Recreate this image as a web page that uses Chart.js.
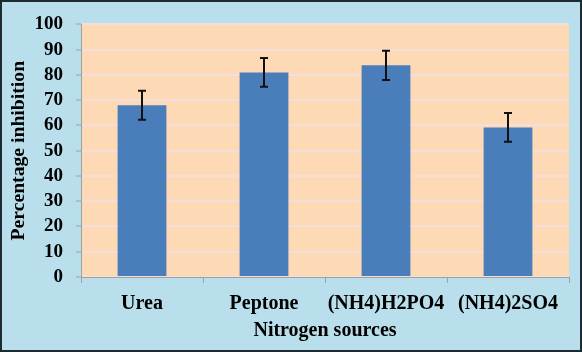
<!DOCTYPE html>
<html>
<head>
<meta charset="utf-8">
<script src="https://cdn.jsdelivr.net/npm/chart.js@4.4.0/dist/chart.umd.min.js"></script>
<style>
  html, body { margin: 0; padding: 0; background: #b8dfeb; }
  #wrap { width: 582px; height: 352px; position: relative; }
</style>
</head>
<body>
<div id="wrap"><canvas id="c" width="582" height="352"></canvas></div>
<script>
const categories = ["Urea", "Peptone", "(NH4)H2PO4", "(NH4)2SO4"];
const inhibition = [68, 81, 83.8, 59.2];
const errors = [5.7, 5.7, 5.8, 5.7];
const yTicks = [0, 10, 20, 30, 40, 50, 60, 70, 80, 90, 100];

const bgPlugin = {
  id: 'bg',
  beforeDraw(chart) {
    const {ctx, chartArea: a} = chart;
    ctx.save();
    ctx.fillStyle = '#b8dfeb';
    ctx.fillRect(0, 0, chart.width, chart.height);
    ctx.fillStyle = '#fdd9b6';
    ctx.fillRect(a.left, a.top, a.right - a.left, a.bottom - a.top);
    ctx.restore();
  },
  afterDraw(chart) {
    const {ctx} = chart;
    ctx.save();
    ctx.strokeStyle = '#1e2b33';
    ctx.lineWidth = 2;
    ctx.strokeRect(1, 1, chart.width - 2, chart.height - 2);
    ctx.restore();
  }
};

const errPlugin = {
  id: 'err',
  afterDatasetsDraw(chart) {
    const {ctx} = chart;
    const meta = chart.getDatasetMeta(0);
    const y = chart.scales.y;
    ctx.save();
    ctx.strokeStyle = '#111';
    ctx.lineWidth = 2;
    meta.data.forEach((bar, i) => {
      const v = inhibition[i], e = errors[i];
      const x = bar.x;
      const yt = y.getPixelForValue(v + e);
      const yb = y.getPixelForValue(v - e);
      ctx.beginPath();
      ctx.moveTo(x, yt); ctx.lineTo(x, yb);
      ctx.moveTo(x - 4, yt); ctx.lineTo(x + 4, yt);
      ctx.moveTo(x - 4, yb); ctx.lineTo(x + 4, yb);
      ctx.stroke();
    });
    ctx.restore();
  }
};

new Chart(document.getElementById('c'), {
  type: 'bar',
  data: {
    labels: categories,
    datasets: [{
      data: inhibition,
      backgroundColor: '#4a7ebb',
      borderWidth: 0,
      categoryPercentage: 1,
      barPercentage: 0.4
    }]
  },
  options: {
    responsive: false,
    animation: false,
    layout: { padding: { top: 18, right: 13, left: 0, bottom: 0 } },
    plugins: { legend: { display: false }, tooltip: { enabled: false } },
    scales: {
      x: {
        afterFit(s) { s.height = 75; },
        grid: { offset: true, drawOnChartArea: false, drawTicks: true, tickLength: 6, tickColor: '#a0a0a0', tickWidth: 1 },
        border: { color: '#a0a0a0', width: 1 },
        ticks: { color: '#000', padding: 9, autoSkip: false, maxRotation: 0, minRotation: 0, font: { family: 'Liberation Serif', weight: 'bold', size: 20 } },
        title: { display: true, text: 'Nitrogen sources', color: '#000', padding: { top: 0, bottom: 9 }, font: { family: 'Liberation Serif', weight: 'bold', size: 20 } }
      },
      y: {
        min: 0, max: 100,
        afterFit(s) { s.width = 81; },
        afterBuildTicks(s) { s.ticks = yTicks.map(v => ({ value: v })); },
        grid: { color: '#f2dedb', lineWidth: 2, drawTicks: true, tickLength: 5, tickColor: '#a0a0a0', tickWidth: 1 },
        border: { color: '#a0a0a0', width: 1 },
        ticks: { color: '#000', padding: 13, autoSkip: false, font: { family: 'Liberation Serif', weight: 'bold', size: 19 } },
        title: { display: true, text: 'Percentage inhibition', color: '#000', padding: { top: 7, bottom: 0 }, font: { family: 'Liberation Serif', weight: 'bold', size: 19.7 } }
      }
    }
  },
  plugins: [bgPlugin, errPlugin]
});
</script>
</body>
</html>
